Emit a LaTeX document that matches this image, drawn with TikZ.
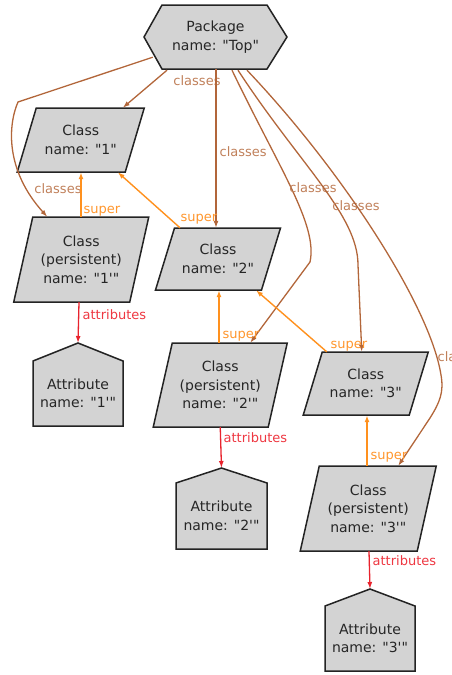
\documentclass[tikz,border=0pt]{standalone}
\usepackage{fontspec}
\setmainfont{DejaVu Sans}[Ligatures=TeXOff]
\usetikzlibrary{arrows.meta,calc}
\definecolor{clsline}{RGB}{178,102,58}
\definecolor{clstext}{RGB}{192,128,90}
\definecolor{supline}{RGB}{255,145,30}
\definecolor{suptext}{RGB}{255,150,45}
\definecolor{attline}{RGB}{232,35,45}
\definecolor{atttext}{RGB}{238,55,65}
\definecolor{nodefill}{RGB}{211,211,211}
\definecolor{nodeline}{RGB}{35,35,35}
\tikzset{
  box/.style={inner sep=0pt, align=center, text=black!85, font=\fontsize{14}{18.5}\selectfont},
  shapeline/.style={fill=nodefill, draw=nodeline, line width=1.5pt, line join=miter},
  tip/.style={-{Latex[length=7pt,width=5pt]}},
  clsedge/.style={draw=clsline, line width=1.3pt, tip},
  supedge/.style={draw=supline, line width=1.4pt, tip},
  attedge/.style={draw=attline, line width=1.3pt, tip},
  lbl/.style={font=\fontsize{13}{13}\selectfont, inner sep=0pt},
  clslbl/.style={lbl, text=clstext},
  suplbl/.style={lbl, text=suptext},
  attlbl/.style={lbl, text=atttext}
}
% name, cx, cy, width, height, text
\newcommand\paranode[6]{%
  \path[shapeline] (#2-#4/2+9.5,#3-#5/2) -- (#2+#4/2+9.5,#3-#5/2) -- (#2+#4/2-9.5,#3+#5/2) -- (#2-#4/2-9.5,#3+#5/2) -- cycle;
  \node[box, minimum width=#4pt, minimum height=#5pt] (#1) at (#2,#3) {#6};}
% name, cx, apex y, shoulder y, bottom y, width, text
\newcommand\housenode[7]{%
  \path[shapeline] (#2,#3) -- (#2+#6/2,#4) -- (#2+#6/2,#5) -- (#2-#6/2,#5) -- (#2-#6/2,#4) -- cycle;
  \coordinate (#1 apex) at (#2,#3);
  \node[box, minimum width=#6pt, minimum height=#5pt-#4pt] (#1) at (#2,{(#4+#5)/2}) {#7};}
\begin{document}
\begin{tikzpicture}[x=1pt,y=-1pt]
\useasboundingbox (0,0) rectangle (452,675);
% package hexagon
\path[shapeline] (144,37) -- (162,5) -- (267,5) -- (287,37) -- (267,69) -- (162,69) -- cycle;
\node[box, minimum width=143pt, minimum height=64pt] (pkg) at (215.5,37) {Package\\name: "Top"};
% classes
\paranode{c1}{80.75}{140}{108}{64}{Class\\name: "1"}
\paranode{cp1}{81.25}{259.5}{116}{85}{Class\\(persistent)\\name: "1'"}
\paranode{c2}{218}{259}{106}{62}{Class\\name: "2"}
\paranode{cp2}{220.25}{385}{115}{84}{Class\\(persistent)\\name: "2'"}
\paranode{c3}{365.75}{383.5}{106}{63}{Class\\name: "3"}
\paranode{cp3}{368.25}{508.5}{117}{85}{Class\\(persistent)\\name: "3'"}
% attributes
\housenode{a1}{78}{343}{361}{426}{90}{Attribute\\name: "1'"}
\housenode{a2}{221.5}{468}{483}{549}{91}{Attribute\\name: "2'"}
\housenode{a3}{370}{589}{606}{671}{90}{Attribute\\name: "3'"}
% classes edges
\draw[clsedge] ($(pkg.south)+(-48.5,1)$) -- ($(c1.north)+(42,0)$)
  node[clslbl] at (197,81) {classes};
\draw[clsedge] ($(pkg.south west)+(9,-12)$) -- (18,102) .. controls (8,125) and (5,170) .. ($(cp1.north)+(-34,0)$)
  node[clslbl] at (58,189) {classes};
\draw[clsedge] ($(pkg.south)+(0.5,0)$) -- ($(c2.north)+(-2,0)$)
  node[clslbl, anchor=west] at (219,152) {classes};
\draw[clsedge] ($(pkg.south)+(16.5,1)$) .. controls (280,170) and (318,225) .. (310,262) -- ($(cp2.north)+(30,0)$)
  node[clslbl] at (313,188) {classes};
\draw[clsedge] ($(pkg.south)+(22.5,1)$) .. controls (300,165) and (358,215) .. (358,265) -- ($(c3.north)+(-4,0)$)
  node[clslbl] at (356,206) {classes};
\draw[clsedge] ($(pkg.south)+(31.5,1)$) .. controls (340,168) and (430,305) .. (441,375) .. controls (444,392) and (440,402) .. (430,418) -- ($(cp3.north)+(30,0)$)
  node[clslbl, anchor=west] at (437,357) {classes};
% super edges
\draw[supedge] ($(cp1.north)+(-0.25,0)$) -- ($(c1.south)+(0.25,0)$)
  node[suplbl, anchor=west] at (83,211) {super};
\draw[supedge] ($(c2.north)+(-38,0)$) -- ($(c1.south)+(37,0)$)
  node[suplbl] at (199,219) {super};
\draw[supedge] ($(cp2.north)+(-1.25,0)$) -- ($(c2.south)+(1,0)$)
  node[suplbl, anchor=west] at (222,336) {super};
\draw[supedge] ($(c3.north)+(-39,0)$) -- ($(c2.south)+(38,0)$)
  node[suplbl] at (349,346) {super};
\draw[supedge] ($(cp3.north)+(-1.25,0)$) -- ($(c3.south)+(1.25,0)$)
  node[suplbl, anchor=west] at (370,457) {super};
% attribute edges
\draw[attedge] ($(cp1.south)+(-2.25,0)$) -- (a1 apex)
  node[attlbl, anchor=west] at (82,315) {attributes};
\draw[attedge] ($(cp2.south)+(0,0)$) -- (a2 apex)
  node[attlbl, anchor=west] at (223,438) {attributes};
\draw[attedge] ($(cp3.south)+(0.75,0)$) -- (a3 apex)
  node[attlbl, anchor=west] at (372,561) {attributes};
\end{tikzpicture}
\end{document}
